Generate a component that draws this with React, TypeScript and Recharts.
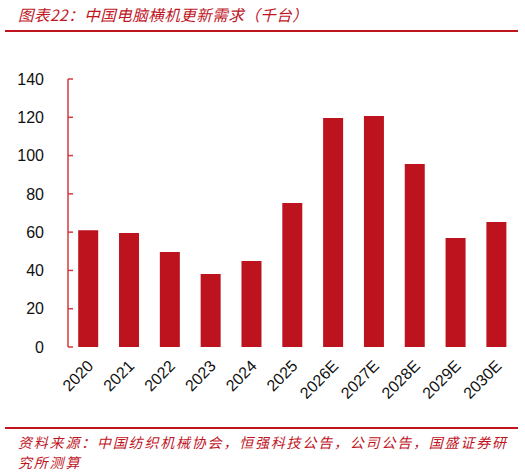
import React from 'react'
import { BarChart, Bar, XAxis, YAxis } from 'recharts'

const years = ['2020', '2021', '2022', '2023', '2024', '2025', '2026E', '2027E', '2028E', '2029E', '2030E']
const demand = [61, 59.6, 49.6, 38.1, 44.9, 75.2, 119.6, 120.7, 95.6, 56.9, 65.3]
const yTicks = [0, 20, 40, 60, 80, 100, 120, 140]
const edgeTicks = [0, 1, 2, 3, 4, 5, 6, 7, 8, 9, 10, 11]

const TITLE = '图表22：中国电脑横机更新需求（千台）'
const SOURCE_1 = '资料来源：中国纺织机械协会，恒强科技公告，公司公告，国盛证券研'
const SOURCE_2 = '究所测算'

const RED = '#c0151f'
const AXIS_RED = '#d8383f'
const CJK = '"Noto Sans CJK SC", sans-serif'
const LATIN = '"Liberation Sans", Arial, sans-serif'

const data = years.map((year, i) => ({ year, demand: demand[i], pos: i + 0.5 }))

function YearTick(props: any) {
  const { x, y, payload } = props
  return (
    <g transform={`translate(${x + 6},${y + 20})`}>
      <text
        transform='rotate(-45)'
        textAnchor='end'
        fontSize={16}
        fontFamily={LATIN}
        fill='#111'
      >
        {payload.value}
      </text>
    </g>
  )
}

export default function App() {
  return (
    <div style={{ position: 'fixed', left: 0, top: 0, width: 525, height: 473, background: '#fff' }}>
      <div
        style={{
          position: 'absolute',
          left: 18,
          top: 4,
          fontFamily: CJK,
          fontStyle: 'italic',
          fontSize: 15.5,
          letterSpacing: 0.5,
          color: RED,
          whiteSpace: 'nowrap',
          lineHeight: '20px',
        }}
      >
        {TITLE}
      </div>
      <div style={{ position: 'absolute', left: 5, top: 30, width: 513, height: 2, background: RED }} />
      <div style={{ position: 'absolute', left: 0, top: 0 }}>
        <BarChart
          width={525}
          height={420}
          data={data}
          margin={{ top: 79, right: 8, bottom: 0, left: 0 }}
          barCategoryGap='25%'
        >
          <XAxis
            xAxisId={0}
            dataKey='pos'
            type='number'
            domain={[0, 11]}
            ticks={edgeTicks}
            allowDataOverflow
            height={0}
            tick={false}
            tickSize={-5}
            tickLine={{ stroke: AXIS_RED, strokeWidth: 1.5 }}
            axisLine={{ stroke: '#c8202a', strokeWidth: 2 }}
          />
          <XAxis
            xAxisId='cat'
            dataKey='year'
            interval={0}
            height={73}
            tickSize={0}
            tickMargin={0}
            tickLine={false}
            axisLine={false}
            tick={<YearTick />}
          />
          <YAxis
            width={68}
            domain={[0, 140]}
            ticks={yTicks}
            interval={0}
            tickSize={-5}
            tickMargin={29}
            tick={{ fontSize: 16, fontFamily: LATIN, fill: '#111' }}
            tickLine={{ stroke: AXIS_RED, strokeWidth: 1.5 }}
            axisLine={{ stroke: AXIS_RED, strokeWidth: 1.5 }}
          />
          <Bar xAxisId='cat' dataKey='demand' fill='#bd131e' isAnimationActive={false} />
        </BarChart>
      </div>
      <div style={{ position: 'absolute', left: 5, top: 427, width: 513, height: 1.5, background: RED }} />
      <div
        style={{
          position: 'absolute',
          left: 18,
          top: 432,
          fontFamily: CJK,
          fontStyle: 'italic',
          fontSize: 14,
          letterSpacing: 1.8,
          color: RED,
          whiteSpace: 'nowrap',
          lineHeight: '20px',
        }}
      >
        <div>{SOURCE_1}</div>
        <div>{SOURCE_2}</div>
      </div>
    </div>
  )
}
